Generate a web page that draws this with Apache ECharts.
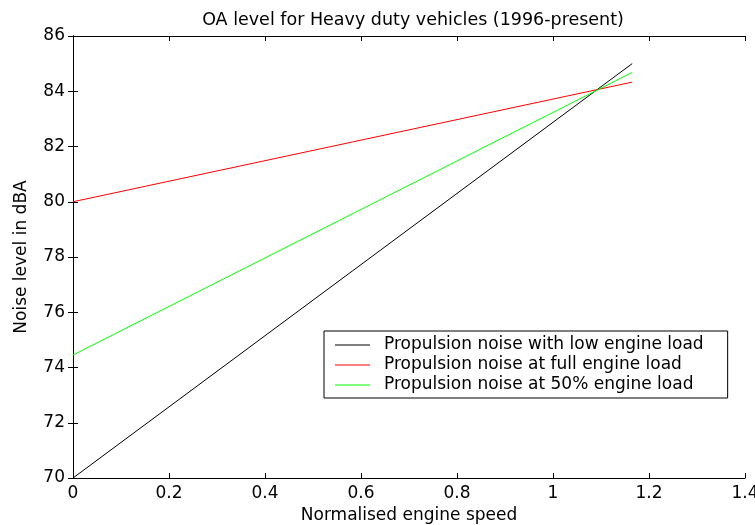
<!DOCTYPE html>
<html>
<head>
<meta charset="utf-8">
<script src="https://cdn.jsdelivr.net/npm/echarts@6/dist/echarts.min.js"></script>
<style>
  html, body { margin: 0; padding: 0; background: #ffffff; }
  #chart { width: 755px; height: 525px; }
</style>
</head>
<body>
<div id="chart"></div>
<script>
// Normalised engine speed at the ends of each line
const engineSpeed = [0, 1.165];
// OA noise level (dBA) for each load condition
const lowLoad = [70, 85];
const fullLoad = [80, 84.33];
const halfLoad = [74.45, 84.68];
const seriesNames = [
  'Propulsion noise with low engine load',
  'Propulsion noise at full engine load',
  'Propulsion noise at 50% engine load'
];

const FONT = '"DejaVu Sans", "Liberation Sans", Arial, sans-serif';

function pairs(xs, ys) {
  return xs.map((x, i) => [x, ys[i]]);
}

const chart = echarts.init(document.getElementById('chart'), null, { renderer: 'canvas' });

const axisCommon = {
  axisLine: { show: true, lineStyle: { color: '#000', width: 1 } },
  axisTick: { show: true, inside: true, length: 5, lineStyle: { color: '#000' } },
  splitLine: { show: false }
};

chart.setOption({
  animation: false,
  backgroundColor: '#ffffff',
  title: {
    text: 'OA level for Heavy duty vehicles (1996-present)',
    left: 408, top: 6, textAlign: 'center',
    textStyle: { fontFamily: FONT, fontSize: 17.5, fontWeight: 'normal', color: '#000' }
  },
  grid: { left: 73, right: 10, top: 36, bottom: 47, containLabel: false, outerBoundsMode: 'none' },
  legend: {
    orient: 'vertical',
    left: 324, top: 331,
    data: seriesNames,
    icon: 'rect',
    backgroundColor: '#ffffff',
    borderColor: '#000', borderWidth: 1, borderRadius: 0,
    padding: [4, 24, 3, 11],
    itemGap: 0,
    itemWidth: 35, itemHeight: 1,
    textStyle: { fontFamily: FONT, fontSize: 17, color: '#000', lineHeight: 20, padding: [0, 0, 0, 9] }
  },
  xAxis: [
    Object.assign({
      type: 'value', position: 'bottom', min: 0, max: 1.4, interval: 0.2,
      name: 'Normalised engine speed', nameLocation: 'middle', nameGap: 28,
      nameTextStyle: { fontFamily: FONT, fontSize: 17, color: '#000' },
      axisLabel: { fontFamily: FONT, fontSize: 17, color: '#000', margin: 7,
        formatter: v => String(Math.round(v * 10) / 10) }
    }, axisCommon),
    Object.assign({
      type: 'value', position: 'top', min: 0, max: 1.4, interval: 0.2,
      axisLabel: { show: false }
    }, axisCommon)
  ],
  yAxis: [
    Object.assign({
      type: 'value', position: 'left', min: 70, max: 86, interval: 2,
      name: 'Noise level in dBA', nameLocation: 'middle', nameGap: 43,
      nameTextStyle: { fontFamily: FONT, fontSize: 17, color: '#000' },
      axisLabel: { fontFamily: FONT, fontSize: 17, color: '#000', margin: 8 }
    }, axisCommon),
    Object.assign({
      type: 'value', position: 'right', min: 70, max: 86, interval: 2,
      axisLabel: { show: false }
    }, axisCommon)
  ],
  series: [
    { name: seriesNames[0], type: 'line', data: pairs(engineSpeed, lowLoad),
      symbol: 'none', lineStyle: { color: '#000000', width: 1 }, itemStyle: { color: '#000000' } },
    { name: seriesNames[1], type: 'line', data: pairs(engineSpeed, fullLoad),
      symbol: 'none', lineStyle: { color: '#ff0000', width: 1 }, itemStyle: { color: '#ff0000' } },
    { name: seriesNames[2], type: 'line', data: pairs(engineSpeed, halfLoad),
      symbol: 'none', lineStyle: { color: '#00ff00', width: 1 }, itemStyle: { color: '#00ff00' } }
  ]
});
</script>
</body>
</html>
